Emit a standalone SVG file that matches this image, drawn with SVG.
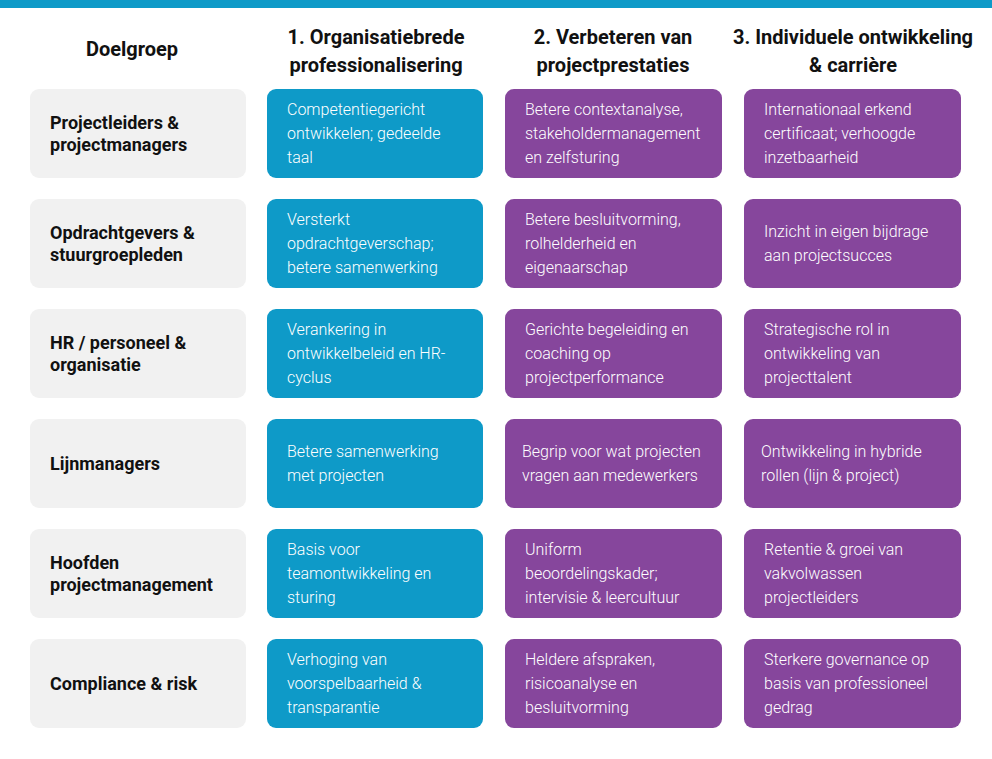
<svg xmlns="http://www.w3.org/2000/svg" width="992" height="759" viewBox="0 0 992 759">
<style>
.hd{font-family:Roboto,"Liberation Sans",sans-serif;font-weight:700;font-size:20px;fill:#111;text-anchor:middle}
.g{fill:#F1F1F1}
.b{fill:#0E9AC8}
.p{fill:#86469C}
.gt{font-family:Roboto,"Liberation Sans",sans-serif;font-weight:700;font-size:18px;fill:#111}
.ct{font-family:Roboto,"Liberation Sans",sans-serif;font-weight:300;font-size:16px;fill:#fff}
</style>
<rect x="0" y="0" width="992" height="8" fill="#0E9AC8"/>
<g id="headers">
<text class="hd" x="132" y="56">Doelgroep</text>
<text class="hd" x="376" y="44">1. Organisatiebrede</text>
<text class="hd" x="376" y="72">professionalisering</text>
<text class="hd" x="613" y="44">2. Verbeteren van</text>
<text class="hd" x="613" y="72">projectprestaties</text>
<text class="hd" x="853" y="44">3. Individuele ontwikkeling</text>
<text class="hd" x="853" y="72">&amp; carrière</text>
</g>
<g id="r1">
<g id="r1c0"><rect class="g" x="30" y="89" width="216" height="89" rx="9"/><text class="gt" x="50" y="129">Projectleiders &amp;</text><text class="gt" x="50" y="151">projectmanagers</text></g>
<g id="r1c1"><rect class="b" x="267" y="89" width="216" height="89" rx="9"/><text class="ct" x="287" y="115">Competentiegericht</text><text class="ct" x="287" y="139">ontwikkelen; gedeelde</text><text class="ct" x="287" y="163">taal</text></g>
<g id="r1c2"><rect class="p" x="505" y="89" width="217" height="89" rx="9"/><text class="ct" x="525" y="115">Betere contextanalyse,</text><text class="ct" x="525" y="139">stakeholdermanagement</text><text class="ct" x="525" y="163">en zelfsturing</text></g>
<g id="r1c3"><rect class="p" x="744" y="89" width="217" height="89" rx="9"/><text class="ct" x="764" y="115">Internationaal erkend</text><text class="ct" x="764" y="139">certificaat; verhoogde</text><text class="ct" x="764" y="163">inzetbaarheid</text></g>
</g>
<g id="r2">
<g id="r2c0"><rect class="g" x="30" y="199" width="216" height="89" rx="9"/><text class="gt" x="50" y="239">Opdrachtgevers &amp;</text><text class="gt" x="50" y="261">stuurgroepleden</text></g>
<g id="r2c1"><rect class="b" x="267" y="199" width="216" height="89" rx="9"/><text class="ct" x="287" y="225">Versterkt</text><text class="ct" x="287" y="249">opdrachtgeverschap;</text><text class="ct" x="287" y="273">betere samenwerking</text></g>
<g id="r2c2"><rect class="p" x="505" y="199" width="217" height="89" rx="9"/><text class="ct" x="525" y="225">Betere besluitvorming,</text><text class="ct" x="525" y="249">rolhelderheid en</text><text class="ct" x="525" y="273">eigenaarschap</text></g>
<g id="r2c3"><rect class="p" x="744" y="199" width="217" height="89" rx="9"/><text class="ct" x="764" y="237">Inzicht in eigen bijdrage</text><text class="ct" x="764" y="261">aan projectsucces</text></g>
</g>
<g id="r3">
<g id="r3c0"><rect class="g" x="30" y="309" width="216" height="89" rx="9"/><text class="gt" x="50" y="349">HR / personeel &amp;</text><text class="gt" x="50" y="371">organisatie</text></g>
<g id="r3c1"><rect class="b" x="267" y="309" width="216" height="89" rx="9"/><text class="ct" x="287" y="335">Verankering in</text><text class="ct" x="287" y="359">ontwikkelbeleid en HR-</text><text class="ct" x="287" y="383">cyclus</text></g>
<g id="r3c2"><rect class="p" x="505" y="309" width="217" height="89" rx="9"/><text class="ct" x="525" y="335">Gerichte begeleiding en</text><text class="ct" x="525" y="359">coaching op</text><text class="ct" x="525" y="383">projectperformance</text></g>
<g id="r3c3"><rect class="p" x="744" y="309" width="217" height="89" rx="9"/><text class="ct" x="764" y="335">Strategische rol in</text><text class="ct" x="764" y="359">ontwikkeling van</text><text class="ct" x="764" y="383">projecttalent</text></g>
</g>
<g id="r4">
<g id="r4c0"><rect class="g" x="30" y="419" width="216" height="89" rx="9"/><text class="gt" x="50" y="470">Lijnmanagers</text></g>
<g id="r4c1"><rect class="b" x="267" y="419" width="216" height="89" rx="9"/><text class="ct" x="287" y="457">Betere samenwerking</text><text class="ct" x="287" y="481">met projecten</text></g>
<g id="r4c2"><rect class="p" x="505" y="419" width="217" height="89" rx="9"/><text class="ct" x="522" y="457">Begrip voor wat projecten</text><text class="ct" x="522" y="481">vragen aan medewerkers</text></g>
<g id="r4c3"><rect class="p" x="744" y="419" width="217" height="89" rx="9"/><text class="ct" x="761" y="457">Ontwikkeling in hybride</text><text class="ct" x="761" y="481">rollen (lijn &amp; project)</text></g>
</g>
<g id="r5">
<g id="r5c0"><rect class="g" x="30" y="529" width="216" height="89" rx="9"/><text class="gt" x="50" y="569">Hoofden</text><text class="gt" x="50" y="591">projectmanagement</text></g>
<g id="r5c1"><rect class="b" x="267" y="529" width="216" height="89" rx="9"/><text class="ct" x="287" y="555">Basis voor</text><text class="ct" x="287" y="579">teamontwikkeling en</text><text class="ct" x="287" y="603">sturing</text></g>
<g id="r5c2"><rect class="p" x="505" y="529" width="217" height="89" rx="9"/><text class="ct" x="525" y="555">Uniform</text><text class="ct" x="525" y="579">beoordelingskader;</text><text class="ct" x="525" y="603">intervisie &amp; leercultuur</text></g>
<g id="r5c3"><rect class="p" x="744" y="529" width="217" height="89" rx="9"/><text class="ct" x="764" y="555">Retentie &amp; groei van</text><text class="ct" x="764" y="579">vakvolwassen</text><text class="ct" x="764" y="603">projectleiders</text></g>
</g>
<g id="r6">
<g id="r6c0"><rect class="g" x="30" y="639" width="216" height="89" rx="9"/><text class="gt" x="50" y="690">Compliance &amp; risk</text></g>
<g id="r6c1"><rect class="b" x="267" y="639" width="216" height="89" rx="9"/><text class="ct" x="287" y="665">Verhoging van</text><text class="ct" x="287" y="689">voorspelbaarheid &amp;</text><text class="ct" x="287" y="713">transparantie</text></g>
<g id="r6c2"><rect class="p" x="505" y="639" width="217" height="89" rx="9"/><text class="ct" x="525" y="665">Heldere afspraken,</text><text class="ct" x="525" y="689">risicoanalyse en</text><text class="ct" x="525" y="713">besluitvorming</text></g>
<g id="r6c3"><rect class="p" x="744" y="639" width="217" height="89" rx="9"/><text class="ct" x="764" y="665">Sterkere governance op</text><text class="ct" x="764" y="689">basis van professioneel</text><text class="ct" x="764" y="713">gedrag</text></g>
</g>
<g id="connectors"/>
</svg>
